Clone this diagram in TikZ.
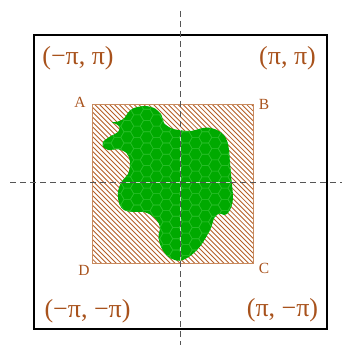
\documentclass[tikz,border=0pt]{standalone}
\usepackage{fontspec}
\setmainfont{Liberation Serif}
\definecolor{brn}{HTML}{A8521C}
\definecolor{hatchc}{HTML}{B45F28}
\definecolor{sqc}{HTML}{C88A5E}
\definecolor{blobg}{HTML}{00AA00}
\definecolor{hexg}{HTML}{25BD25}
\definecolor{axisc}{HTML}{555555}
\definecolor{lightax}{RGB}{190,228,190}
\begin{document}
\begin{tikzpicture}[x=1pt,y=-1pt,
  corner/.style={text=brn,font=\fontsize{26}{26}\selectfont,inner sep=0pt},
  letter/.style={text=brn,font=\fontsize{15.5}{15.5}\selectfont,inner sep=0pt},
  axisline/.style={draw=axisc,line width=0.9pt,dash pattern=on 6pt off 4pt},
  hatchline/.style={draw=hatchc,line width=0.85pt},
  hexline/.style={draw=hexg,line width=0.6pt},
  blobpath/.style={insert path={plot[smooth cycle,tension=0.55] coordinates {
    (145,106) (155,108.5) (161.5,115) (164,123) (172,128.5) (182,130.5)
    (191,131) (199,129) (207,127.5) (217,130) (225,136.5) (228.5,146.5)
    (230,163) (231.5,180) (233,196.5) (231.5,206.5) (228,213) (224,215)
    (219.5,213.5) (214.5,217.5) (211.5,226.5) (206.5,236.5) (200,246.5)
    (191.5,255) (183,260) (176.5,260.5) (168,256.5) (161.5,248) (158.5,237)
    (160,227) (156.5,220) (151,215) (144,212) (136,211.8) (128,211.5)
    (121.5,208) (118.3,200) (118.3,190) (121.7,181.7) (128.3,173.3)
    (130,161.7) (126.7,153.3) (118.3,149.3) (108.3,150) (103,146.5)
    (103.5,141.5) (110,136.5) (118,132) (119.5,127) (116,124) (112,122.5)
    (118,121.5) (124,118.5) (128.5,112) (134,108)
  }}}
]
\useasboundingbox (0,0) rectangle (342,345);
% coordinates
\coordinate (vt) at (180,11);
\coordinate (vb) at (180,345);
\coordinate (hl) at (10,182);
\coordinate (hr) at (342,182);
\coordinate (sqA) at (92.5,104);
\coordinate (sqC) at (253.5,263);
% outer box
\draw[line width=1.6pt] (34,35) rectangle (327,329);
% hatched square
\begin{scope}
  \clip (sqA) rectangle (sqC);
  \foreach \a in {0,...,66} {
    \draw[hatchline] ({92.5-160+4.9*\a},104) -- ++(160,160);
  }
\end{scope}
\draw[draw=sqc,line width=1pt] (sqA) rectangle (sqC);
% blob
\fill[blobg,blobpath];
\begin{scope}
  \clip[blobpath];
  \foreach \i in {0,...,15} {
    \foreach \j in {0,...,15} {
      \pgfmathsetmacro\hx{98+9.75*\i}
      \pgfmathsetmacro\hy{98+11.258*(\j+0.5*mod(\i,2))}
      \draw[hexline] (\hx,\hy) ++(6.5,0) -- ++(-3.25,5.629) -- ++(-6.5,0)
        -- ++(-3.25,-5.629) -- ++(3.25,-5.629) -- ++(6.5,0) -- cycle;
    }
  }
  \draw[lightax,line width=0.9pt] (vt) -- (vb);
  \draw[lightax,line width=0.9pt] (hl) -- (hr);
\end{scope}
% axes
\draw[axisline] (vt) -- (vb);
\draw[axisline] (hl) -- (hr);
% labels
\node[letter] (lA) at (80,102) {A};
\node[letter] (lB) at (264,104) {B};
\node[letter] (lC) at (264,268) {C};
\node[letter] (lD) at (84,270) {D};
\node[corner] (tl) at (78,58) {(−π, π)};
\node[corner] (tr) at (287.5,58) {(π, π)};
\node[corner] (bl) at (87.5,311.5) {(−π, −π)};
\node[corner] (br) at (282.5,310) {(π, −π)};
\end{tikzpicture}
\end{document}
